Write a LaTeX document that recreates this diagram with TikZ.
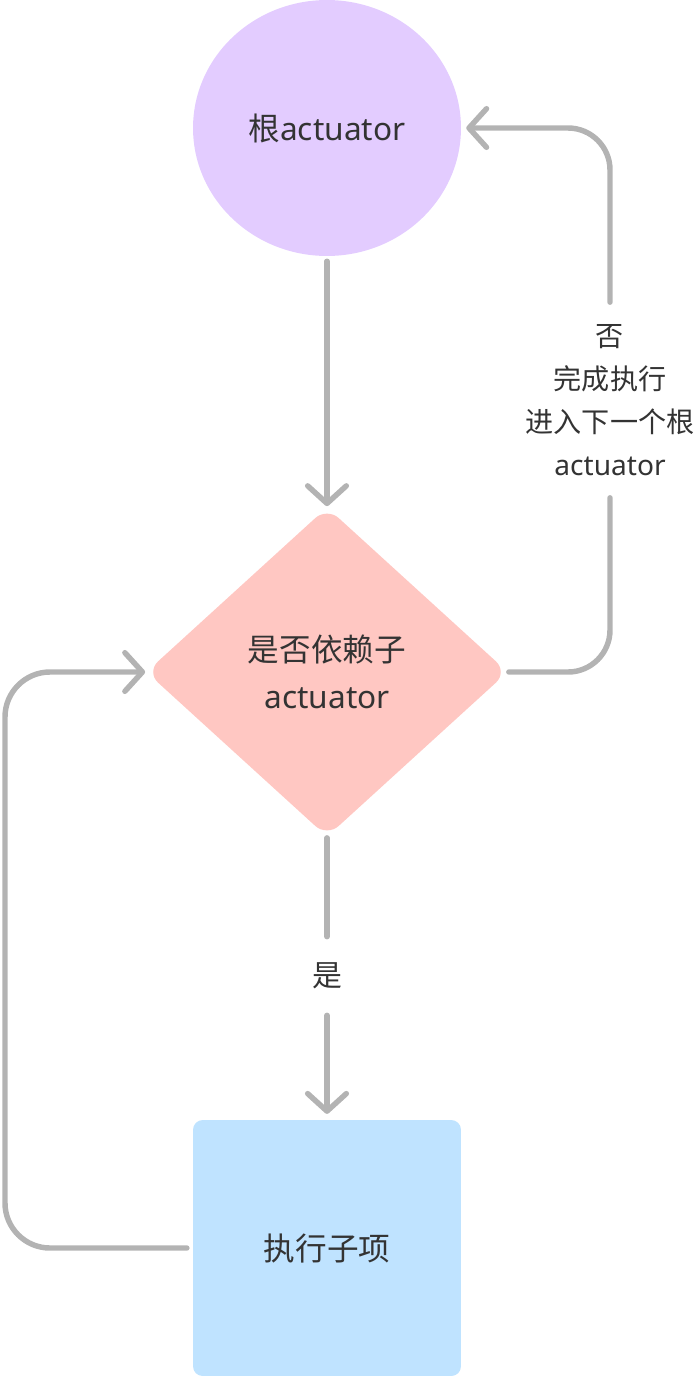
\documentclass[tikz,border=0pt]{standalone}
\usepackage{fontspec}
\setmainfont{Noto Sans}
\newfontfamily\cjk{Noto Sans CJK SC}
\usepackage{xcolor}
\usetikzlibrary{shapes.geometric, arrows.meta, positioning, calc}
\definecolor{rootfill}{HTML}{E3CCFF}
\definecolor{depfill}{HTML}{FFC7C2}
\definecolor{execfill}{HTML}{BFE3FF}
\definecolor{linegray}{HTML}{B3B3B3}
\definecolor{textdark}{HTML}{333333}
\tikzstyle{block} = [inner sep=0pt, text=textdark, align=center,
    font=\fontsize{18}{26.5}\selectfont]
\tikzstyle{rootblock} = [block, ellipse, fill=rootfill, minimum width=5.36cm,
    minimum height=5.12cm, outer sep=3pt]
\tikzstyle{depblock} = [block, diamond, fill=depfill, rounded corners=9pt,
    minimum width=7.24cm, minimum height=6.6cm, outer sep=0.5pt]
\tikzstyle{execblock} = [block, rectangle, fill=execfill, rounded corners=5.5pt,
    minimum width=5.36cm, minimum height=5.12cm, outer sep=3.5pt]
\tikzstyle{edgelabel} = [inner sep=0pt, text=textdark, align=center,
    font=\fontsize{16}{24.5}\selectfont]
\tikzstyle{plainline} = [line width=3.1pt, draw=linegray, line cap=round]
\tikzstyle{arrow} = [plainline, -{Straight Barb[length=10pt,width=22pt,round]}]

\begin{document}
\begin{tikzpicture}[x=0.02cm, y=-0.02cm]
  \useasboundingbox (0,0) rectangle (694,1376);
  % Nodes
  \node[rootblock](root) at (327,128){{\cjk 根}actuator};
  \node[depblock](dep) at (327,672){{\cjk 是否依赖子}\\actuator};
  \node[execblock](exec) at (327,1248){{\cjk 执行子项}};

  % Edge labels
  \node[edgelabel, minimum height=1.56cm, font=\fontsize{17}{24}\selectfont](yes)
    at (327,976){{\cjk 是}};
  \node[edgelabel, minimum height=3.9cm](no) at (610,400){{\cjk 否}\\
    {\cjk 完成执行}\\{\cjk 进入下一个根}\\actuator};
  \coordinate (loop) at (5,960);

  % Arrows
  \draw[arrow](root)--(dep);
  \draw[plainline](dep)--(yes);
  \draw[arrow](yes)--(exec);
  \draw[plainline, rounded corners=0.84cm](dep.east) -| (no.south);
  \draw[arrow, rounded corners=0.84cm](no.north) |- (root.east);
  \draw[arrow, rounded corners=0.9cm](exec.west) -| (loop) |- (dep.west);
\end{tikzpicture}
\end{document}
